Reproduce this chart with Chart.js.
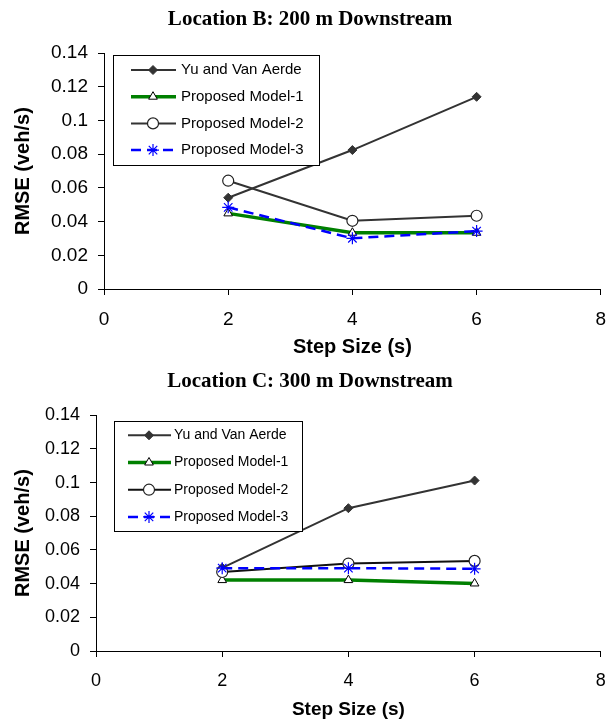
<!DOCTYPE html>
<html>
<head>
<meta charset="utf-8">
<script src="https://cdn.jsdelivr.net/npm/chart.js@4/dist/chart.umd.min.js"></script>
<style>
  body { margin: 0; background: #fff; }
  canvas { display: block; }
</style>
</head>
<body>
<canvas id="chartB" width="608" height="362"></canvas>
<canvas id="chartC" width="608" height="362"></canvas>
<script>
// Datos
const stepSizes = [2, 4, 6];
const seriesNames = ['Yu and Van Aerde', 'Proposed Model-1', 'Proposed Model-2', 'Proposed Model-3'];
const yTicks = [0, 0.02, 0.04, 0.06, 0.08, 0.1, 0.12, 0.14];
const xTicks = [0, 2, 4, 6, 8];

// Location B: 200 m Downstream
const yuB = [0.0542, 0.0825, 0.1141];
const model1B = [0.0449, 0.0334, 0.0334];
const model2B = [0.0643, 0.0405, 0.0435];
const model3B = [0.0485, 0.0301, 0.0344];

// Location C: 300 m Downstream
const yuC = [0.0494, 0.0848, 0.1012];
const model1C = [0.0421, 0.0421, 0.0401];
const model2C = [0.0469, 0.0519, 0.0535];
const model3C = [0.0492, 0.0492, 0.0488];

const sans = '"Liberation Sans", Arial, sans-serif';

// Leyenda dentro del área del gráfico, con recuadro
const boxLegend = {
  id: 'boxLegend',
  afterLayout(chart, args, opts) {
    // el título original no está centrado sobre todo el lienzo
    if (chart.titleBlock && opts.titleShift) {
      chart.titleBlock.left += opts.titleShift;
      chart.titleBlock.right += opts.titleShift;
    }
  },
  afterDraw(chart, args, opts) {
    const ctx = chart.ctx;
    const b = opts.box;
    ctx.save();
    ctx.fillStyle = '#fff';
    ctx.fillRect(b.x, b.y, b.w, b.h);
    ctx.strokeStyle = '#000';
    ctx.lineWidth = 1;
    ctx.strokeRect(b.x + 0.5, b.y + 0.5, b.w, b.h);
    ctx.font = opts.fontSize + 'px ' + sans;
    ctx.textBaseline = 'middle';
    ctx.textAlign = 'left';
    chart.data.datasets.forEach((ds, i) => {
      const y = b.y + opts.firstRow + i * opts.rowGap;
      ctx.strokeStyle = ds.borderColor;
      ctx.lineWidth = ds.borderWidth;
      ctx.setLineDash(ds.borderDash || []);
      ctx.beginPath();
      ctx.moveTo(opts.lineX0, y);
      ctx.lineTo(opts.lineX1, y);
      ctx.stroke();
      ctx.setLineDash([]);
      ctx.fillStyle = ds.pointBackgroundColor;
      ctx.strokeStyle = ds.pointBorderColor;
      ctx.lineWidth = ds.pointBorderWidth;
      Chart.helpers.drawPoint(ctx, {
        pointStyle: ds.pointStyle,
        radius: ds.pointRadius,
        rotation: 0,
        borderWidth: ds.pointBorderWidth
      }, opts.markX, y);
      ctx.fillStyle = '#000';
      ctx.fillText(ds.label, opts.textX, y);
    });
    ctx.restore();
  }
};

function toPoints(values) {
  return stepSizes.map((x, i) => ({ x: x, y: values[i] }));
}

function makeDatasets(yu, m1, m2, m3, m2Color) {
  return [
    {
      label: seriesNames[0], data: toPoints(yu), order: 3,
      borderColor: '#333', borderWidth: 2,
      pointStyle: 'rectRot', pointRadius: 4.5,
      pointBackgroundColor: '#333', pointBorderColor: '#333', pointBorderWidth: 1
    },
    {
      label: seriesNames[1], data: toPoints(m1), order: 2,
      borderColor: '#008000', borderWidth: 3.5,
      pointStyle: 'triangle', pointRadius: 5,
      pointBackgroundColor: '#fff', pointBorderColor: '#000', pointBorderWidth: 1
    },
    {
      label: seriesNames[2], data: toPoints(m2), order: 1,
      borderColor: m2Color, borderWidth: 2,
      pointStyle: 'circle', pointRadius: 5.5,
      pointBackgroundColor: '#fff', pointBorderColor: '#222', pointBorderWidth: 1.2
    },
    {
      label: seriesNames[3], data: toPoints(m3), order: 0,
      borderColor: '#0000ff', borderWidth: 2.5, borderDash: [10, 6],
      pointStyle: 'star', pointRadius: 6,
      pointBackgroundColor: '#0000ff', pointBorderColor: '#0000ff', pointBorderWidth: 1.2
    }
  ];
}

function drawRmseChart(canvasId, title, datasets, yAxisWidth, tickSize, xTitleSize, legendOpts) {
  const ctx = document.getElementById(canvasId).getContext('2d');
  return new Chart(ctx, {
    type: 'line',
    data: { datasets: datasets },
    plugins: [boxLegend],
    options: {
      responsive: false,
      animation: false,
      devicePixelRatio: 1,
      layout: { padding: { left: 0, right: 6, top: 0, bottom: 0 } },
      elements: { line: { tension: 0, fill: false } },
      plugins: {
        legend: { display: false },
        tooltip: { enabled: false },
        title: {
          display: true,
          text: title,
          color: '#000',
          font: { family: '"Liberation Serif", "Times New Roman", serif', size: 21, weight: 'bold' },
          padding: { top: 7, bottom: 21 }
        },
        boxLegend: legendOpts
      },
      scales: {
        x: {
          type: 'linear',
          min: xTicks[0],
          max: xTicks[xTicks.length - 1],
          afterFit: (scale) => {
            scale.height = 73;
            scale.paddingLeft = 0;
            scale.paddingRight = 0;
          },
          afterBuildTicks: (scale) => { scale.ticks = xTicks.map(v => ({ value: v })); },
          ticks: { color: '#000', font: { family: sans, size: tickSize }, padding: 13, maxRotation: 0 },
          grid: { drawOnChartArea: false, drawTicks: true, tickLength: 6, color: '#000' },
          border: { display: true, color: '#000', width: 1 },
          title: {
            display: true,
            text: 'Step Size (s)',
            color: '#000',
            font: { family: sans, size: xTitleSize, weight: 'bold' },
            padding: { top: 0, bottom: 3 }
          }
        },
        y: {
          min: yTicks[0],
          max: yTicks[yTicks.length - 1],
          afterFit: (scale) => { scale.width = yAxisWidth; },
          afterBuildTicks: (scale) => { scale.ticks = yTicks.map(v => ({ value: v })); },
          ticks: {
            color: '#000',
            font: { family: sans, size: tickSize },
            padding: 10,
            callback: (value) => String(+Number(value).toFixed(2))
          },
          grid: { drawOnChartArea: false, drawTicks: true, tickLength: 6, color: '#000' },
          border: { display: true, color: '#000', width: 1 },
          title: {
            display: true,
            text: 'RMSE (veh/s)',
            color: '#000',
            font: { family: sans, size: 20, weight: 'bold' },
            padding: { top: 11, bottom: 0 }
          }
        }
      }
    }
  });
}

drawRmseChart('chartB',
  'Location B: 200 m Downstream',
  makeDatasets(yuB, model1B, model2B, model3B, '#333'),
  104, 19, 20,
  { box: { x: 113, y: 55, w: 206, h: 110 }, firstRow: 15, rowGap: 26.7,
    lineX0: 131, lineX1: 176, markX: 153, textX: 181, fontSize: 15, titleShift: 9 });

drawRmseChart('chartC',
  'Location C: 300 m Downstream',
  makeDatasets(yuC, model1C, model2C, model3C, '#111'),
  96, 18, 19,
  { box: { x: 114, y: 59, w: 188, h: 110 }, firstRow: 14.3, rowGap: 27.2,
    lineX0: 128, lineX1: 171, markX: 149, textX: 174, fontSize: 14, titleShift: 9 });
</script>
</body>
</html>
